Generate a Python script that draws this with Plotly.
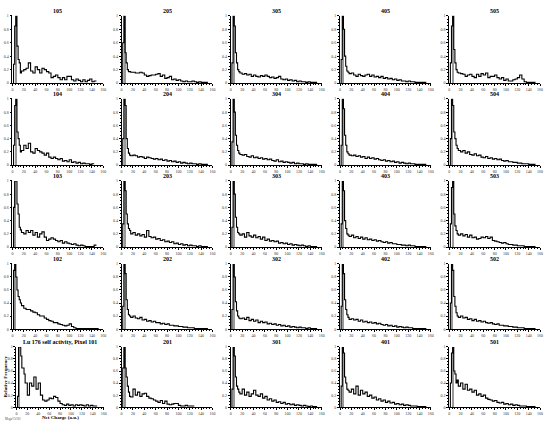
import plotly.graph_objects as go

# Bin edges of the net-charge histograms (a.u.)
charge_edges = [2, 4, 6, 8, 10, 12, 14, 16, 20, 24, 28, 32, 36, 40, 44, 48, 52, 56, 60, 64,
                68, 72, 76, 80, 84, 88, 92, 96, 100, 104, 108, 112, 116, 120, 124, 128,
                132, 136, 140, 144, 148, 152]

x_ticks = [0, 20, 40, 60, 80, 100, 120, 140, 160]
y_ticks = [0, 0.2, 0.4, 0.6, 0.8, 1]
y_tick_labels = ["0", "0.2", "0.4", "0.6", "0.8", "1"]

# Grid of pixel ids (rows top->bottom, cols left->right)
pixel_grid = [
    ["105", "205", "305", "405", "505"],
    ["104", "204", "304", "404", "504"],
    ["103", "203", "303", "403", "503"],
    ["102", "202", "302", "402", "502"],
    ["101", "201", "301", "401", "501"],
]
title_101 = "Lu 176 self activity, Pixel 101"

N = None
freq_105 = [0.28, 0.85, 1.0, 0.55, 0.35, 0.3, 0.15, 0.18, 0.2, 0.22, 0.3, 0.18, 0.15, 0.24, 0.2, 0.15, 0.22, 0.2, 0.17, 0.15, 0.08, 0.1, 0.12, 0.08, 0.05, 0.08, 0.05, 0.1, 0.1, 0.05, 0.03, 0.06, 0.04, 0.02, 0.05, 0.02, 0.04, 0.06, 0.02, 0.03, N]
freq_205 = [0.6, 1.0, 0.45, 0.3, 0.2, 0.17, 0.17, 0.16, 0.16, 0.15, 0.15, 0.16, 0.15, 0.12, 0.1, 0.11, 0.12, 0.12, 0.13, 0.14, 0.1, 0.12, 0.07, 0.08, 0.1, 0.05, 0.06, 0.04, 0.05, 0.03, 0.02, 0.03, 0.02, 0.02, 0.03, 0.02, 0.01, 0.02, 0.01, 0.01, 0.01]
freq_305 = [0.3, 1.0, 0.85, 0.45, 0.3, 0.2, 0.17, 0.15, 0.13, 0.14, 0.12, 0.13, 0.1, 0.12, 0.1, 0.09, 0.11, 0.1, 0.12, 0.1, 0.08, 0.09, 0.07, 0.08, 0.1, 0.06, 0.05, 0.06, 0.04, 0.05, 0.03, 0.04, 0.02, 0.03, 0.02, 0.02, 0.01, 0.02, 0.01, 0.01, 0.01]
freq_405 = [0.35, 1.0, 0.8, 0.4, 0.25, 0.18, 0.16, 0.14, 0.15, 0.12, 0.1, 0.13, 0.11, 0.1, 0.12, 0.13, 0.1, 0.12, 0.09, 0.1, 0.08, 0.1, 0.07, 0.08, 0.06, 0.07, 0.05, 0.06, 0.04, 0.05, 0.03, 0.03, 0.02, 0.03, 0.02, 0.02, 0.01, 0.01, 0.01, 0.01, 0.01]
freq_505 = [0.3, 0.85, 1.0, 0.5, 0.3, 0.2, 0.16, 0.15, 0.14, 0.13, 0.1, 0.12, 0.13, 0.1, 0.08, 0.13, 0.1, 0.14, 0.12, 0.15, 0.08, 0.1, 0.1, 0.12, 0.08, 0.06, 0.08, 0.04, 0.06, 0.03, 0.03, 0.05, 0.06, 0.08, 0.12, 0.06, 0.02, 0.01, 0.01, 0.01, 0.01]

freq_104 = [0.3, 0.9, 1.0, 0.5, 0.4, 0.3, 0.2, 0.22, 0.3, 0.25, 0.33, 0.2, 0.18, 0.25, 0.22, 0.2, 0.18, 0.15, 0.18, 0.12, 0.1, 0.12, 0.1, 0.08, 0.1, 0.06, 0.07, 0.05, 0.08, 0.04, 0.05, 0.03, 0.04, 0.02, 0.03, 0.02, 0.02, 0.01, 0.02, N, N]
freq_204 = [0.4, 1.0, 0.9, 0.4, 0.25, 0.18, 0.15, 0.14, 0.15, 0.14, 0.12, 0.13, 0.12, 0.1, 0.12, 0.11, 0.1, 0.09, 0.1, 0.08, 0.09, 0.07, 0.08, 0.06, 0.07, 0.05, 0.06, 0.04, 0.05, 0.03, 0.04, 0.03, 0.02, 0.03, 0.02, 0.02, 0.01, 0.02, 0.01, 0.01, 0.01]
freq_304 = [0.35, 1.0, 0.8, 0.45, 0.3, 0.22, 0.18, 0.16, 0.15, 0.16, 0.13, 0.12, 0.14, 0.11, 0.12, 0.1, 0.11, 0.09, 0.1, 0.08, 0.09, 0.07, 0.06, 0.08, 0.05, 0.06, 0.04, 0.05, 0.04, 0.03, 0.04, 0.02, 0.03, 0.02, 0.02, 0.01, 0.02, 0.01, 0.01, 0.01, 0.01]
freq_404 = [0.3, 1.0, 0.85, 0.45, 0.3, 0.2, 0.17, 0.15, 0.14, 0.15, 0.13, 0.14, 0.12, 0.13, 0.1, 0.12, 0.1, 0.11, 0.09, 0.1, 0.08, 0.07, 0.08, 0.06, 0.07, 0.05, 0.06, 0.04, 0.05, 0.03, 0.04, 0.03, 0.02, 0.03, 0.02, 0.02, 0.01, 0.01, 0.01, 0.01, 0.01]
freq_504 = [0.4, 1.0, 0.9, 0.5, 0.4, 0.3, 0.25, 0.22, 0.2, 0.22, 0.18, 0.2, 0.16, 0.15, 0.17, 0.14, 0.15, 0.12, 0.11, 0.13, 0.1, 0.11, 0.09, 0.1, 0.08, 0.09, 0.07, 0.06, 0.07, 0.05, 0.05, 0.04, 0.04, 0.03, 0.03, 0.02, 0.02, 0.02, 0.01, 0.01, 0.01]

freq_103 = [0.6, 1.0, 1.0, 0.65, 0.5, 0.3, 0.26, 0.22, 0.2, 0.25, 0.22, 0.25, 0.18, 0.22, 0.15, 0.2, 0.23, 0.15, 0.1, 0.12, 0.14, 0.12, 0.1, 0.08, 0.1, 0.06, 0.08, 0.06, 0.05, 0.04, 0.05, 0.03, 0.02, 0.03, 0.02, 0.01, 0.01, 0.01, 0.01, 0.03, N]
freq_203 = [0.35, 1.0, 0.85, 0.5, 0.35, 0.28, 0.25, 0.2, 0.22, 0.18, 0.2, 0.17, 0.19, 0.15, 0.25, 0.16, 0.14, 0.15, 0.12, 0.13, 0.1, 0.11, 0.08, 0.09, 0.07, 0.08, 0.05, 0.06, 0.04, 0.05, 0.03, 0.04, 0.02, 0.03, 0.02, 0.02, 0.01, 0.02, 0.01, 0.01, 0.01]
freq_303 = [0.3, 1.0, 0.8, 0.45, 0.3, 0.22, 0.2, 0.18, 0.2, 0.15, 0.22, 0.17, 0.15, 0.18, 0.14, 0.16, 0.12, 0.15, 0.1, 0.12, 0.09, 0.1, 0.08, 0.09, 0.06, 0.07, 0.05, 0.06, 0.04, 0.05, 0.03, 0.04, 0.03, 0.02, 0.03, 0.02, 0.01, 0.02, 0.01, 0.01, 0.01]
freq_403 = [0.35, 1.0, 0.85, 0.4, 0.28, 0.2, 0.18, 0.16, 0.18, 0.14, 0.16, 0.13, 0.15, 0.12, 0.14, 0.11, 0.12, 0.1, 0.11, 0.09, 0.1, 0.08, 0.07, 0.08, 0.06, 0.07, 0.05, 0.05, 0.04, 0.04, 0.03, 0.03, 0.02, 0.03, 0.02, 0.02, 0.01, 0.01, 0.01, 0.01, 0.01]
freq_503 = [0.35, 0.9, 1.0, 0.5, 0.32, 0.25, 0.2, 0.18, 0.2, 0.17, 0.19, 0.15, 0.18, 0.14, 0.15, 0.12, 0.13, 0.15, 0.14, 0.16, 0.13, 0.15, 0.1, 0.09, 0.08, 0.07, 0.06, 0.07, 0.05, 0.04, 0.04, 0.03, 0.03, 0.02, 0.02, 0.02, 0.01, 0.01, 0.01, 0.01, 0.01]

freq_102 = [0.9, 1.0, 0.8, 0.6, 0.5, 0.45, 0.4, 0.36, 0.32, 0.3, 0.3, 0.28, 0.26, 0.25, 0.22, 0.2, 0.2, 0.17, 0.15, 0.13, 0.12, 0.1, 0.1, 0.08, 0.07, 0.06, 0.05, 0.06, 0.08, 0.04, 0.02, 0.01, 0.01, 0.01, 0.01, 0.01, 0.01, 0.01, 0.01, 0.01, 0.01]
freq_202 = [0.35, 1.0, 0.85, 0.45, 0.3, 0.22, 0.2, 0.18, 0.2, 0.17, 0.16, 0.18, 0.14, 0.15, 0.12, 0.13, 0.11, 0.12, 0.1, 0.1, 0.08, 0.09, 0.07, 0.08, 0.06, 0.06, 0.05, 0.05, 0.04, 0.04, 0.03, 0.03, 0.02, 0.02, 0.02, 0.01, 0.01, 0.01, 0.01, 0.01, 0.01]
freq_302 = [0.3, 1.0, 0.8, 0.42, 0.28, 0.2, 0.17, 0.16, 0.17, 0.15, 0.18, 0.13, 0.15, 0.12, 0.14, 0.1, 0.12, 0.1, 0.11, 0.08, 0.09, 0.07, 0.08, 0.06, 0.07, 0.05, 0.06, 0.04, 0.05, 0.03, 0.04, 0.03, 0.02, 0.03, 0.02, 0.02, 0.01, 0.02, 0.01, 0.01, 0.01]
freq_402 = [0.35, 1.0, 0.85, 0.45, 0.3, 0.22, 0.18, 0.15, 0.16, 0.14, 0.15, 0.12, 0.14, 0.11, 0.12, 0.1, 0.11, 0.09, 0.1, 0.08, 0.09, 0.07, 0.06, 0.07, 0.05, 0.06, 0.04, 0.05, 0.03, 0.04, 0.03, 0.02, 0.03, 0.02, 0.02, 0.01, 0.01, 0.01, 0.01, 0.01, 0.01]
freq_502 = [0.4, 1.0, 0.9, 0.5, 0.35, 0.25, 0.2, 0.18, 0.2, 0.17, 0.18, 0.15, 0.16, 0.13, 0.15, 0.12, 0.13, 0.11, 0.12, 0.1, 0.09, 0.1, 0.08, 0.07, 0.08, 0.06, 0.06, 0.05, 0.05, 0.04, 0.04, 0.03, 0.03, 0.02, 0.02, 0.02, 0.01, 0.01, 0.01, 0.01, 0.01]

freq_101 = [0.18, 1.0, 1.0, 0.85, 0.65, 0.65, 0.55, 0.4, 0.2, 0.4, 0.35, 0.5, 0.3, 0.4, 0.2, 0.12, 0.1, 0.12, 0.15, 0.14, 0.18, 0.16, 0.1, 0.06, 0.04, 0.03, 0.05, 0.03, 0.04, 0.02, 0.04, 0.03, 0.04, 0.03, 0.02, 0.04, 0.02, 0.03, 0.02, 0.02, N]
freq_201 = [0.65, 1.0, 0.65, 0.5, 0.35, 0.25, 0.18, 0.17, 0.3, 0.2, 0.25, 0.18, 0.22, 0.23, 0.18, 0.15, 0.14, 0.12, 0.1, 0.08, 0.11, 0.06, 0.1, 0.05, 0.04, 0.05, 0.06, 0.06, 0.03, 0.02, 0.02, 0.03, 0.02, 0.02, 0.02, N, N, N, N, N, N]
freq_301 = [0.3, 1.0, 0.85, 0.5, 0.35, 0.3, 0.25, 0.22, 0.3, 0.2, 0.25, 0.18, 0.22, 0.28, 0.2, 0.18, 0.22, 0.15, 0.18, 0.12, 0.14, 0.1, 0.12, 0.08, 0.09, 0.06, 0.08, 0.05, 0.06, 0.04, 0.05, 0.03, 0.04, 0.03, 0.02, 0.03, 0.02, 0.01, 0.02, 0.01, 0.01]
freq_401 = [0.35, 1.0, 0.9, 0.5, 0.4, 0.3, 0.28, 0.25, 0.3, 0.22, 0.35, 0.2, 0.28, 0.22, 0.25, 0.18, 0.2, 0.15, 0.17, 0.12, 0.14, 0.1, 0.12, 0.08, 0.1, 0.07, 0.08, 0.05, 0.06, 0.04, 0.05, 0.03, 0.04, 0.03, 0.02, 0.02, 0.02, 0.01, 0.01, 0.01, 0.01]
freq_501 = [0.4, 0.9, 1.0, 0.6, 0.55, 0.4, 0.45, 0.35, 0.4, 0.3, 0.38, 0.28, 0.3, 0.25, 0.28, 0.2, 0.22, 0.18, 0.2, 0.15, 0.13, 0.12, 0.1, 0.11, 0.08, 0.07, 0.08, 0.05, 0.06, 0.04, 0.05, 0.03, 0.04, 0.03, 0.02, 0.02, 0.02, 0.01, 0.01, 0.01, 0.01]

freqs = {
    "105": freq_105, "205": freq_205, "305": freq_305, "405": freq_405, "505": freq_505,
    "104": freq_104, "204": freq_204, "304": freq_304, "404": freq_404, "504": freq_504,
    "103": freq_103, "203": freq_203, "303": freq_303, "403": freq_403, "503": freq_503,
    "102": freq_102, "202": freq_202, "302": freq_302, "402": freq_402, "502": freq_502,
    "101": freq_101, "201": freq_201, "301": freq_301, "401": freq_401, "501": freq_501,
}

# ---------- layout geometry (pixels) ----------
W, H = 550, 424
col_left = [11.5, 121.5, 231.5, 341.5, 451.5]
panel_w = 91.5
row_top = [13, 97, 180, 264, 348]
row_bot = [81, 164, 247, 330, 409]

font_serif = "Liberation Serif, Times New Roman, serif"

fig = go.Figure()
annotations = []
layout = {}

k = 0
for r in range(5):
    for c in range(5):
        k += 1
        pid = pixel_grid[r][c]
        vals = freqs[pid]
        n = len(vals)
        while vals[n - 1] is None:
            n -= 1
        xs = [charge_edges[0]] + charge_edges[:n] + [charge_edges[n]]
        ys = [0] + vals[:n] + [vals[n - 1]]
        xa = "x" if k == 1 else f"x{k}"
        ya = "y" if k == 1 else f"y{k}"
        # gray spike at the peak bin
        imax = max(range(n), key=lambda i: vals[i])
        fig.add_trace(go.Bar(
            x=[(charge_edges[imax] + charge_edges[imax + 1]) / 2], y=[vals[imax]],
            width=[(charge_edges[imax + 1] - charge_edges[imax]) * 0.8],
            marker=dict(color="#9a9a9a", line=dict(width=0)),
            xaxis=xa, yaxis=ya, showlegend=False, hoverinfo="skip"))
        fig.add_trace(go.Scatter(
            x=xs, y=ys, mode="lines", line=dict(color="black", width=1.1, shape="hv"),
            xaxis=xa, yaxis=ya, showlegend=False))

        left = col_left[c]
        width = panel_w
        if r == 4 and c == 0:
            left, width = 15.5, 88
        x0, x1 = left / W, (left + width) / W
        y0, y1 = 1 - row_bot[r] / H, 1 - row_top[r] / H
        key = "" if k == 1 else str(k)
        layout["xaxis" + key] = dict(
            domain=[x0, x1], range=[0, 160], anchor=ya,
            tickvals=x_ticks, ticks="outside", ticklen=2, tickwidth=0.6, tickcolor="black",
            minor=dict(ticks="outside", ticklen=1, dtick=5, tickcolor="black", tickwidth=0.5),
            showline=True, linecolor="black", linewidth=0.8, showgrid=False, zeroline=False,
            tickfont=dict(size=4, family=font_serif, color="#333"), ticklabelstandoff=0)
        layout["yaxis" + key] = dict(
            domain=[y0, y1], range=[0, 1.0], anchor=xa,
            tickvals=y_ticks, ticktext=y_tick_labels, ticks="outside", ticklen=2,
            tickwidth=0.6, tickcolor="black",
            minor=dict(ticks="outside", ticklen=1, dtick=0.05, tickcolor="black", tickwidth=0.5),
            showline=True, linecolor="black", linewidth=0.8, showgrid=False, zeroline=False,
            tickfont=dict(size=4, family=font_serif, color="#333"))
        title = title_101 if pid == "101" else pid
        annotations.append(dict(
            text=f"<b>{title}</b>", x=(x0 + x1) / 2, y=y1, xref="paper", yref="paper",
            xanchor="center", yanchor="bottom", yshift=0, showarrow=False,
            font=dict(size=6, family=font_serif, color="black")))

annotations.append(dict(
    text="<b>Relative Frequency</b>", x=5 / W, y=1 - 378 / H, xref="paper", yref="paper",
    textangle=-90, showarrow=False, xanchor="center", yanchor="middle",
    font=dict(size=5, family=font_serif, color="black")))
annotations.append(dict(
    text="<b>Net Charge (a.u.)</b>", x=60 / W, y=1 - 419 / H, xref="paper", yref="paper",
    showarrow=False, xanchor="center", yanchor="middle",
    font=dict(size=5, family=font_serif, color="black")))
annotations.append(dict(
    text="Mega/Ci/101", x=2 / W, y=1 - 421 / H, xref="paper", yref="paper",
    showarrow=False, xanchor="left", yanchor="middle",
    font=dict(size=3, family=font_serif, color="#444")))

fig.update_layout(
    width=W, height=H, autosize=False,
    margin=dict(l=0, r=0, t=0, b=0),
    paper_bgcolor="white", plot_bgcolor="white",
    barmode="overlay", bargap=0,
    annotations=annotations,
    **layout)

fig.write_html("out.html", config={"displayModeBar": False},
               post_script="document.body.style.margin='0';document.body.style.padding='0';")
